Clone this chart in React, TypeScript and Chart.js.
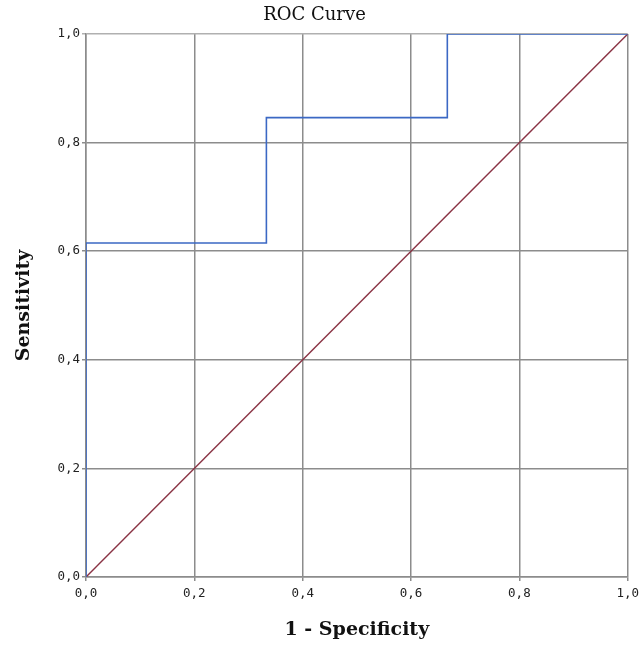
import React, { useEffect, useRef } from "react";
import { Chart, registerables } from "chart.js";

Chart.register(...registerables);

const rocX = [0, 0, 0.333, 0.333, 0.667, 0.667, 1];
const rocY = [0, 0.615, 0.615, 0.846, 0.846, 1, 1];
const refX = [0, 1];
const refY = [0, 1];
const tickValues = [0, 0.2, 0.4, 0.6, 0.8, 1.0];

export default function App() {
  const ref = useRef<HTMLCanvasElement>(null);
  useEffect(() => {
    if (!ref.current) return;
    const fmt = (v: any) => Number(v).toFixed(1).replace(".", ",");
    const tickFont = { family: "DejaVu Sans Mono", size: 12.5 };
    const chart = new Chart(ref.current, {
      type: "scatter",
      data: {
        datasets: [
          {
            label: "ROC",
            data: rocX.map((x, i) => ({ x, y: rocY[i] })),
            showLine: true,
            borderColor: "#3b68c4",
            borderWidth: 1.6,
            pointRadius: 0,
            fill: false,
          },
          {
            label: "Reference",
            data: refX.map((x, i) => ({ x, y: refY[i] })),
            showLine: true,
            borderColor: "#8a3344",
            borderWidth: 1.4,
            pointRadius: 0,
            fill: false,
          },
        ],
      },
      options: {
        animation: false,
        responsive: false,
        layout: { padding: { left: 0, right: 15, top: 0, bottom: 0 } },
        plugins: {
          legend: { display: false },
          tooltip: { enabled: false },
          title: {
            display: true,
            text: "ROC Curve",
            color: "#111",
            font: { family: "DejaVu Serif", size: 18, weight: "normal", lineHeight: 1.2 },
            padding: { top: 5, bottom: 7.4 },
          },
        },
        scales: {
          x: {
            type: "linear",
            min: 0,
            max: 1,
            afterBuildTicks: (s: any) => {
              s.ticks = tickValues.map((v) => ({ value: v }));
            },
            afterFit: (s: any) => {
              s.height = 68;
            },
            ticks: {
              callback: fmt,
              color: "#222",
              font: tickFont,
              padding: 5,
              maxRotation: 0,
            },
            grid: { color: "#8c8c8c", lineWidth: 1.5, tickLength: 4 },
            border: { color: "#8c8c8c", width: 1.5 },
            title: {
              display: true,
              text: "1 - Specificity",
              color: "#111",
              font: { family: "DejaVu Serif", size: 19, weight: "bold" },
              padding: { top: 0, bottom: 4 },
            },
          },
          y: {
            type: "linear",
            min: 0,
            max: 1,
            afterBuildTicks: (s: any) => {
              s.ticks = tickValues.map((v) => ({ value: v }));
            },
            afterFit: (s: any) => {
              s.width = 86;
            },
            ticks: {
              callback: fmt,
              color: "#222",
              font: tickFont,
              padding: 2,
            },
            grid: {
              color: (c: any) => (c.tick && c.tick.value === 1 ? "#b0b0b0" : "#8c8c8c"),
              lineWidth: 1.5,
              tickLength: 4,
            },
            border: { color: "#8c8c8c", width: 1.5 },
            title: {
              display: true,
              text: "Sensitivity",
              color: "#111",
              font: { family: "DejaVu Serif", size: 19, weight: "bold" },
              padding: { top: 13, bottom: 0 },
            },
          },
        },
      },
    });
    return () => chart.destroy();
  }, []);
  return (
    <div style={{ position: "fixed", left: 0, top: 0, width: 644, height: 645, background: "#fff" }}>
      <canvas ref={ref} width={644} height={645} />
    </div>
  );
}
